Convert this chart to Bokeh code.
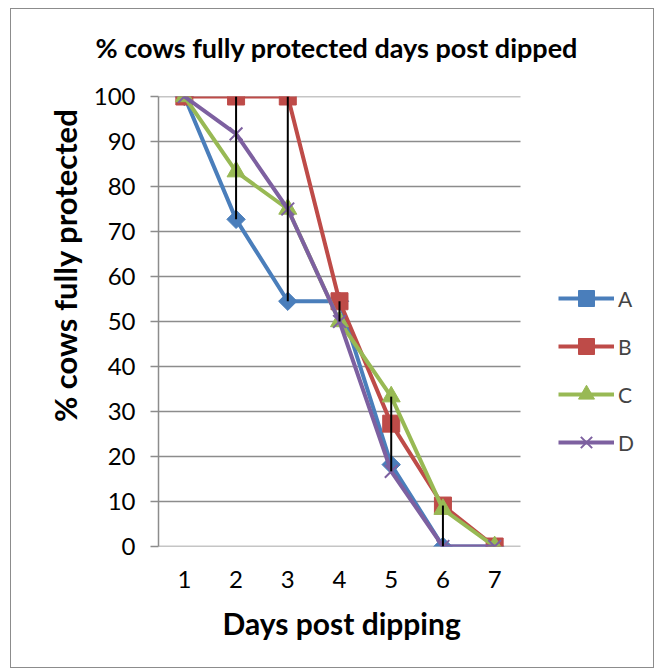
import numpy as np
from bokeh.plotting import figure
from bokeh.layouts import row, column
from bokeh.models import (Range1d, Legend, LegendItem, FixedTicker, ColumnDataSource,
                          InlineStyleSheet, Spacer, Title)
from bokeh.embed import file_html
from bokeh.resources import INLINE

days = [1, 2, 3, 4, 5, 6, 7]
series_names = ["A", "B", "C", "D"]
A = [100, 72.7, 54.5, 54.5, 18.2, 0, 0]
B = [100, 100, 100, 54.5, 27.3, 9.1, 0]
C = [100, 83.3, 75, 50, 33.3, 8.3, 0]
D = [100, 91.7, 75, 50, 16.7, 0, 0]
y_ticks = [0, 10, 20, 30, 40, 50, 60, 70, 80, 90, 100]

colors = ["#4A7EBB", "#BE4B48", "#98B954", "#7D60A0"]
FONT = "Lato"
GRID = "#8C8C8C"

# chart box: outer border at screen x=10..655, y=8..; figure origin at (11, 9)
OX, OY = 11, 9
W, H = 644, 660
PL, PR, PT, PB = 158, 520, 96, 546          # plot area (screen px)
x0, x1 = days[0] - 0.5, days[-1] + 0.5       # category band edges
x_end = x0 + (x1 - x0) * (W + OX - PL) / (PR - PL)   # frame extends under legend

p = figure(width=W, height=H, output_backend="svg", toolbar_location=None,
           x_range=Range1d(x0, x_end), y_range=Range1d(0, 100),
           min_border_left=PL - OX, min_border_right=0,
           min_border_top=PT - OY, min_border_bottom=H - (PB - OY))
p.stylesheets = [InlineStyleSheet(css=":host { border: 1px solid #8C8C8C; }")]
p.outline_line_color = None
p.background_fill_color = "white"

p.title.text = "% cows fully protected days post dipped"
p.title.text_font = FONT
p.title.text_font_size = "27px"
p.title.text_font_style = "bold"
p.title.text_color = "black"
p.title.align = "left"
p.title.offset = -63
p.title.standoff = 10
# blank gap between the title and the plot area
p.add_layout(Title(text=" ", text_font_size="10px", standoff=15), "above")

p.xgrid.grid_line_color = None
p.ygrid.grid_line_color = None
# horizontal gridlines across the category area only
p.segment(x0=[x0] * len(y_ticks), y0=y_ticks, x1=[x1] * len(y_ticks), y1=y_ticks,
          line_color=GRID, line_width=1.5)

p.yaxis.ticker = FixedTicker(ticks=y_ticks)
p.xaxis.ticker = FixedTicker(ticks=days)
for ax in (p.xaxis, p.yaxis):
    ax.axis_line_color = GRID
    ax.axis_line_width = 1.5
    ax.major_tick_line_color = GRID
    ax.major_tick_line_width = 1.5
    ax.minor_tick_line_color = None
    ax.major_label_text_font = FONT
    ax.major_label_text_font_size = "24px"
    ax.major_label_text_color = "black"
p.xaxis.axis_line_color = None
p.yaxis.major_tick_out = 8
p.yaxis.major_tick_in = 0
p.xaxis.major_tick_out = 0
p.xaxis.major_tick_in = 0
p.yaxis.major_label_standoff = 15
p.xaxis.major_label_standoff = 24

ytitle = Title(text="% cows fully protected", text_font=FONT, text_font_size="31px",
               text_font_style="bold", text_color="black", align="right",
               offset=12, standoff=13)
p.add_layout(ytitle, "left")
xtitle = Title(text="Days post dipping", text_font=FONT, text_font_size="30px",
               text_font_style="bold", text_color="black", align="left",
               offset=64, standoff=24)
p.add_layout(xtitle, "below")

data = [A, B, C, D]
markers = [("square", 13, np.pi / 4, 1), ("square", 17, 0, 1), ("triangle", 18, 0, 1), ("x", 18, 0, 2)]

items = []
for name, vals, col, (mk, sz, ang, lw) in zip(series_names, data, colors, markers):
    src = ColumnDataSource(dict(x=days, y=vals))
    l = p.line("x", "y", source=src, line_color=col, line_width=4)
    kw = dict(marker=mk, size=sz, angle=ang, line_color=col, line_width=lw)
    if mk != "x":
        kw["fill_color"] = col
    s = p.scatter("x", "y", source=src, **kw)
    items.append(LegendItem(label=name, renderers=[l, s]))

arr = np.array(data)
lo = arr.min(axis=0)
hi = arr.max(axis=0)
p.segment(x0=days, y0=lo, x1=days, y1=hi, line_color="black", line_width=2)

legend = Legend(items=items, location=(400, 84), orientation="vertical",
                glyph_width=56, glyph_height=40, label_height=20, spacing=8,
                padding=0, margin=0, border_line_color=None,
                background_fill_alpha=0, label_text_font=FONT,
                label_text_font_size="21px", label_standoff=4)
p.add_layout(legend, "center")

page = row(Spacer(width=10), column(Spacer(height=8), p, spacing=0), spacing=0)

open("out.html", "w").write(file_html(page, INLINE))
